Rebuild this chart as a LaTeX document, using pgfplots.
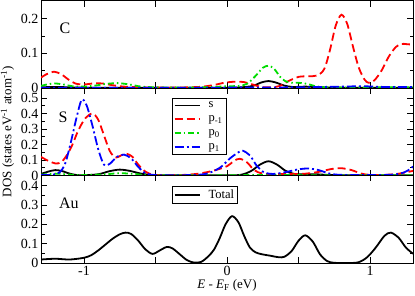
\documentclass[border=0pt]{standalone}
\usepackage{fontspec}
\setmainfont{Liberation Serif}
\usepackage{pgfplots}
\pgfplotsset{compat=1.18}
\definecolor{grn}{RGB}{0,220,0}
\pgfplotsset{
  panel/.style={width=372pt,height=87.5pt,scale only axis,
    xmin=-1.3,xmax=1.3,ymin=0,
    xtick={-1,-0.5,0,0.5,1},xticklabels={},
    tick align=inside, minor y tick num=1,
    major tick length=6pt, minor tick length=3.5pt,
    every tick/.style={black,line width=0.7pt},
    axis line style={line width=0.8pt},
    tick label style={font=\fontsize{14}{16}\selectfont},
    yticklabel style={inner sep=2.5pt},
    /pgf/number format/assume math mode=true,
    yticklabel style={/pgf/number format/fixed},
    legend cell align=left,
    legend image code/.code={\draw[##1] (0pt,0pt) -- (25pt,0pt); \path (31pt,0pt);},
  },
  sl/.style={black,line width=1.8pt,smooth},
  pm/.style={red,line width=1.8pt,dash pattern=on 8pt off 4pt,smooth},
  pz/.style={grn,line width=1.8pt,dash pattern=on 6pt off 3pt on 1.5pt off 3pt,smooth},
  po/.style={blue,line width=1.8pt,dash pattern=on 9pt off 3pt on 2pt off 3pt,smooth},
}
\begin{document}
\begin{tikzpicture}
% ---------------- C panel
\begin{axis}[panel,at={(0pt,175pt)},anchor=south west,ymax=0.252,ytick={0,0.1,0.2}]
\addplot[sl] coordinates {(-1.3,0.002) (-1.2,0.003) (-1.1,0.002) (-1.0,0.001) (-0.5,0.001) (0.0,0.001) (0.1,0.002) (0.18,0.006) (0.24,0.016) (0.29,0.020) (0.34,0.016) (0.40,0.007) (0.46,0.003) (0.55,0.004) (0.65,0.002) (0.8,0.001) (1.3,0.001)};
\addplot[pm] coordinates {(-1.3,0.030) (-1.26,0.040) (-1.21,0.047) (-1.16,0.040) (-1.11,0.025) (-1.06,0.013) (-1.0,0.010) (-0.94,0.013) (-0.87,0.013) (-0.80,0.008) (-0.72,0.004) (-0.6,0.002) (-0.4,0.001) (-0.2,0.003) (-0.1,0.008) (-0.02,0.015) (0.05,0.018) (0.12,0.017) (0.18,0.010) (0.24,0.003) (0.31,0.002) (0.37,0.006) (0.43,0.020) (0.50,0.032) (0.57,0.034) (0.63,0.036) (0.68,0.055) (0.72,0.11) (0.76,0.18) (0.80,0.211) (0.84,0.185) (0.88,0.12) (0.92,0.06) (0.96,0.025) (0.99,0.015) (1.03,0.022) (1.08,0.05) (1.13,0.09) (1.18,0.118) (1.22,0.127) (1.26,0.126) (1.30,0.125)};
\addplot[pz] coordinates {(-1.3,0.006) (-1.25,0.011) (-1.2,0.013) (-1.14,0.010) (-1.08,0.005) (-1.0,0.004) (-0.92,0.007) (-0.84,0.012) (-0.76,0.014) (-0.68,0.010) (-0.6,0.004) (-0.5,0.002) (-0.3,0.001) (-0.1,0.003) (0.0,0.005) (0.08,0.006) (0.14,0.012) (0.2,0.035) (0.25,0.058) (0.29,0.064) (0.33,0.055) (0.38,0.028) (0.43,0.016) (0.5,0.015) (0.56,0.012) (0.62,0.005) (0.7,0.002) (0.9,0.001) (1.1,0.002) (1.3,0.002)};
\addplot[po] coordinates {(-1.3,0.001) (-0.5,0.001) (0.0,0.001) (0.5,0.002) (0.8,0.004) (0.95,0.005) (1.1,0.003) (1.3,0.003)};
\node at (rel axis cs:0.0645,0.68) {\fontsize{16}{18}\selectfont C};
\end{axis}
% ---------------- S panel
\begin{axis}[panel,at={(0pt,87.5pt)},anchor=south west,ymax=0.565,ytick={0,0.1,0.2,0.3,0.4,0.5},
  legend style={at={(0.352,0.886)},anchor=north west,draw=black,line width=0.6pt,
    font=\fontsize{12.5}{14}\selectfont,inner sep=1.5pt,row sep=2.5pt}]
\addplot[sl] coordinates {(-1.3,0.010) (-1.25,0.025) (-1.2,0.035) (-1.15,0.028) (-1.1,0.012) (-1.05,0.003) (-1.0,0.002) (-0.9,0.008) (-0.82,0.028) (-0.75,0.038) (-0.68,0.030) (-0.6,0.012) (-0.52,0.003) (-0.4,0.001) (0.0,0.001) (0.1,0.005) (0.17,0.03) (0.23,0.07) (0.29,0.092) (0.35,0.07) (0.41,0.03) (0.47,0.01) (0.55,0.008) (0.62,0.008) (0.7,0.004) (0.8,0.002) (1.3,0.002)};
\addlegendentry{s}
\addplot[pm] coordinates {(-1.3,0.12) (-1.25,0.095) (-1.2,0.078) (-1.16,0.085) (-1.12,0.13) (-1.08,0.20) (-1.04,0.29) (-0.99,0.37) (-0.94,0.40) (-0.90,0.36) (-0.86,0.26) (-0.82,0.16) (-0.78,0.115) (-0.74,0.13) (-0.70,0.14) (-0.66,0.12) (-0.62,0.07) (-0.57,0.025) (-0.52,0.006) (-0.45,0.002) (-0.3,0.004) (-0.2,0.012) (-0.1,0.03) (0.0,0.06) (0.05,0.095) (0.09,0.108) (0.14,0.085) (0.19,0.035) (0.25,0.012) (0.35,0.01) (0.45,0.01) (0.55,0.012) (0.65,0.025) (0.73,0.042) (0.80,0.047) (0.87,0.035) (0.94,0.012) (1.0,0.004) (1.1,0.004) (1.2,0.012) (1.3,0.03)};
\addlegendentry{p\textsubscript{-1}}
\addplot[pz] coordinates {(-1.3,0.005) (-1.2,0.012) (-1.1,0.006) (-1.0,0.003) (-0.85,0.008) (-0.75,0.015) (-0.65,0.01) (-0.55,0.003) (-0.3,0.001) (0.0,0.002) (0.3,0.003) (0.6,0.002) (1.0,0.002) (1.3,0.002)};
\addlegendentry{p\textsubscript{0}}
\addplot[po] coordinates {(-1.3,0.003) (-1.22,0.005) (-1.17,0.02) (-1.13,0.08) (-1.09,0.22) (-1.05,0.38) (-1.015,0.49) (-0.98,0.45) (-0.94,0.32) (-0.9,0.17) (-0.86,0.07) (-0.82,0.075) (-0.77,0.12) (-0.72,0.135) (-0.67,0.11) (-0.62,0.055) (-0.57,0.015) (-0.5,0.003) (-0.3,0.002) (-0.15,0.01) (-0.05,0.05) (0.02,0.11) (0.08,0.15) (0.11,0.16) (0.16,0.13) (0.21,0.06) (0.26,0.02) (0.32,0.01) (0.4,0.02) (0.5,0.04) (0.57,0.045) (0.64,0.035) (0.72,0.012) (0.8,0.004) (1.0,0.003) (1.15,0.005) (1.22,0.015) (1.26,0.03) (1.3,0.058)};
\addlegendentry{p\textsubscript{1}}
\node at (rel axis cs:0.059,0.669) {\fontsize{16}{18}\selectfont S};
\end{axis}
% ---------------- Au panel
\begin{axis}[panel,at={(0pt,0pt)},anchor=south west,ymax=0.452,ytick={0,0.1,0.2,0.3,0.4},
  xticklabels={-1,,0,,1},
  legend style={at={(0.352,0.878)},anchor=north west,draw=black,line width=0.6pt,
    font=\fontsize{12.5}{14}\selectfont,inner sep=1.5pt}]
\addplot[sl] coordinates {(-1.3,0.018) (-1.2,0.022) (-1.1,0.018) (-1.0,0.027) (-0.95,0.040) (-0.9,0.065) (-0.85,0.095) (-0.8,0.125) (-0.75,0.148) (-0.71,0.157) (-0.67,0.150) (-0.62,0.115) (-0.57,0.07) (-0.52,0.047) (-0.47,0.065) (-0.42,0.083) (-0.38,0.075) (-0.33,0.045) (-0.28,0.015) (-0.23,0.002) (-0.18,0.006) (-0.13,0.035) (-0.09,0.07) (-0.05,0.13) (-0.01,0.20) (0.035,0.242) (0.08,0.21) (0.12,0.14) (0.16,0.08) (0.2,0.055) (0.245,0.045) (0.3,0.038) (0.36,0.03) (0.40,0.032) (0.45,0.06) (0.5,0.115) (0.547,0.143) (0.6,0.11) (0.65,0.045) (0.7,0.01) (0.75,0.001) (0.85,0.0) (0.92,0.004) (0.98,0.03) (1.04,0.08) (1.1,0.14) (1.145,0.157) (1.2,0.13) (1.25,0.08) (1.3,0.048)};
\addlegendentry{Total}
\node at (rel axis cs:0.075,0.68) {\fontsize{16}{18}\selectfont Au};
\end{axis}
\node[rotate=90] at (-33.5pt,131.25pt) {\fontsize{13}{15}\selectfont DOS (states eV\textsuperscript{-1} atom\textsuperscript{-1})};
\node at (186pt,-22.3pt) {\fontsize{13}{15}\selectfont \textit{E} - \textit{E}\textsubscript{F} (eV)};
\pgfresetboundingbox
\useasboundingbox (-41pt,-32.3pt) rectangle (374pt,263pt);
\end{tikzpicture}
\end{document}
